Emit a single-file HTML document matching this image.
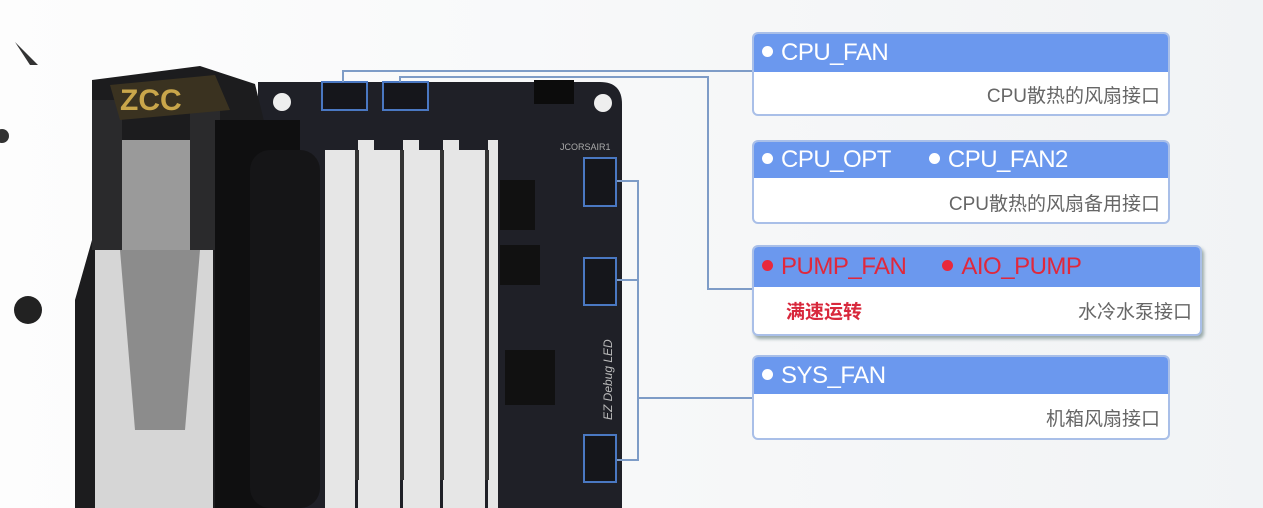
<!DOCTYPE html>
<html><head><meta charset="utf-8"><style>
body{margin:0;width:1263px;height:508px;overflow:hidden;background:#f4f5f7;font-family:"Liberation Sans","Noto Sans CJK SC",sans-serif}
.box{position:absolute;background:#fff;border:2px solid #a9bfe8;border-radius:6px;overflow:hidden}
.hd{background:#6b98ee;color:#fff;font-size:24px;height:38px;line-height:38px;padding-left:8px;white-space:nowrap;letter-spacing:-0.5px}
.hd .d{display:inline-block;width:11px;height:11px;border-radius:50%;background:#fff;margin-right:8px;vertical-align:3px}
.hd .r{background:#e8283c}
.ds{position:absolute;right:8px;font-size:19px;color:#666}
</style></head><body>
<svg width="1263" height="508" style="position:absolute;left:0;top:0">
<defs><linearGradient id="bg" x1="0" x2="1"><stop offset="0" stop-color="#fdfdfd"/><stop offset="0.5" stop-color="#f7f8f9"/><stop offset="1" stop-color="#f1f3f5"/></linearGradient></defs>
<rect x="0" y="0" width="1263" height="508" fill="url(#bg)"/>
<!-- motherboard -->
<path d="M258 82 H600 Q622 82 622 104 V508 H258 Z" fill="#1f2027"/>
<!-- cooler -->
<path d="M92 80 L200 66 L255 84 L300 270 L300 508 H75 V300 L92 240 Z" fill="#1c1c1e"/>
<rect x="95" y="250" width="118" height="258" fill="#d6d6d6"/>
<path d="M120 250 L200 250 L185 430 L135 430 Z" fill="#8c8c8c"/>
<rect x="92" y="100" width="30" height="150" fill="#2a2a2c"/>
<rect x="190" y="100" width="30" height="150" fill="#2a2a2c"/>
<rect x="122" y="140" width="68" height="110" fill="#9a9a9a"/>
<path d="M110 85 L215 75 L230 110 L120 120 Z" fill="#3a3220"/>
<text x="120" y="110" fill="#c9a64a" font-size="30" font-weight="bold" font-family="Liberation Sans">ZCC</text>
<rect x="215" y="120" width="85" height="388" fill="#0f0f10"/>
<rect x="250" y="150" width="70" height="358" rx="20" fill="#151517"/>
<path d="M15 42 L38 65 L30 65 Z" fill="#333"/>
<circle cx="2" cy="136" r="7" fill="#333"/><circle cx="28" cy="310" r="14" fill="#222"/>
<!-- RAM -->
<g fill="#e6e6e6">
<rect x="325" y="150" width="30" height="358"/><rect x="358" y="140" width="16" height="368"/>
<rect x="370" y="150" width="30" height="358"/><rect x="403" y="140" width="16" height="368"/>
<rect x="410" y="150" width="30" height="358"/><rect x="443" y="140" width="16" height="368"/>
<rect x="455" y="150" width="30" height="358"/><rect x="488" y="140" width="10" height="368"/>
</g>
<g fill="#333"><rect x="355" y="150" width="4" height="330"/><rect x="400" y="150" width="4" height="330"/><rect x="440" y="150" width="4" height="330"/><rect x="485" y="150" width="4" height="330"/></g>
<!-- chips -->
<g fill="#111"><rect x="500" y="245" width="40" height="40"/><rect x="505" y="350" width="50" height="55"/><rect x="500" y="180" width="35" height="50"/></g>
<circle cx="282" cy="102" r="9" fill="#eee"/><circle cx="603" cy="103" r="9" fill="#eee"/>
<rect x="534" y="80" width="40" height="24" fill="#0c0c0c"/>
<!-- connectors -->
<g fill="#15161b" stroke="#4a78c2" stroke-width="2">
<rect x="322" y="82" width="45" height="28"/><rect x="383" y="82" width="45" height="28"/>
<rect x="584" y="158" width="32" height="48"/><rect x="584" y="258" width="32" height="47"/><rect x="584" y="435" width="32" height="47"/>
</g>
<g fill="none" stroke="#7e9cc7" stroke-width="2">
<path d="M343 82 V71 H752"/>
<path d="M400 82 V77 H708 V289 H752"/>
<path d="M617 181 H638 V460 H617 M617 280 H638 M638 398 H752"/>
</g>
<text x="560" y="150" fill="#aaa" font-size="9">JCORSAIR1</text>
<text x="612" y="420" fill="#bbb" font-size="12" font-style="italic" transform="rotate(-90 612 420)">EZ Debug LED</text>
</svg>
<div class="box" style="left:752px;top:32px;width:414px;height:80px"><div class="hd"><span class="d"></span>CPU_FAN</div><div class="ds" style="top:47px">CPU散热的风扇接口</div></div>
<div class="box" style="left:752px;top:140px;width:414px;height:80px"><div class="hd" style="height:36px;line-height:36px"><span class="d"></span>CPU_OPT<span style="display:inline-block;width:38px"></span><span class="d"></span>CPU_FAN2</div><div class="ds" style="top:47px">CPU散热的风扇备用接口</div></div>
<div class="box" style="left:752px;top:245px;width:446px;height:87px;box-shadow:2px 3px 3px #9aa"><div class="hd" style="color:#e0283c;height:40px;line-height:40px"><span class="d r"></span>PUMP_FAN<span style="display:inline-block;width:36px"></span><span class="d r"></span>AIO_PUMP</div><div style="position:absolute;left:32px;top:50px;font-size:19px;color:#d8283c;font-weight:bold">满速运转</div><div class="ds" style="top:50px">水冷水泵接口</div></div>
<div class="box" style="left:752px;top:355px;width:414px;height:81px"><div class="hd" style="height:37px;line-height:37px"><span class="d"></span>SYS_FAN</div><div class="ds" style="top:47px">机箱风扇接口</div></div>
</body></html>
